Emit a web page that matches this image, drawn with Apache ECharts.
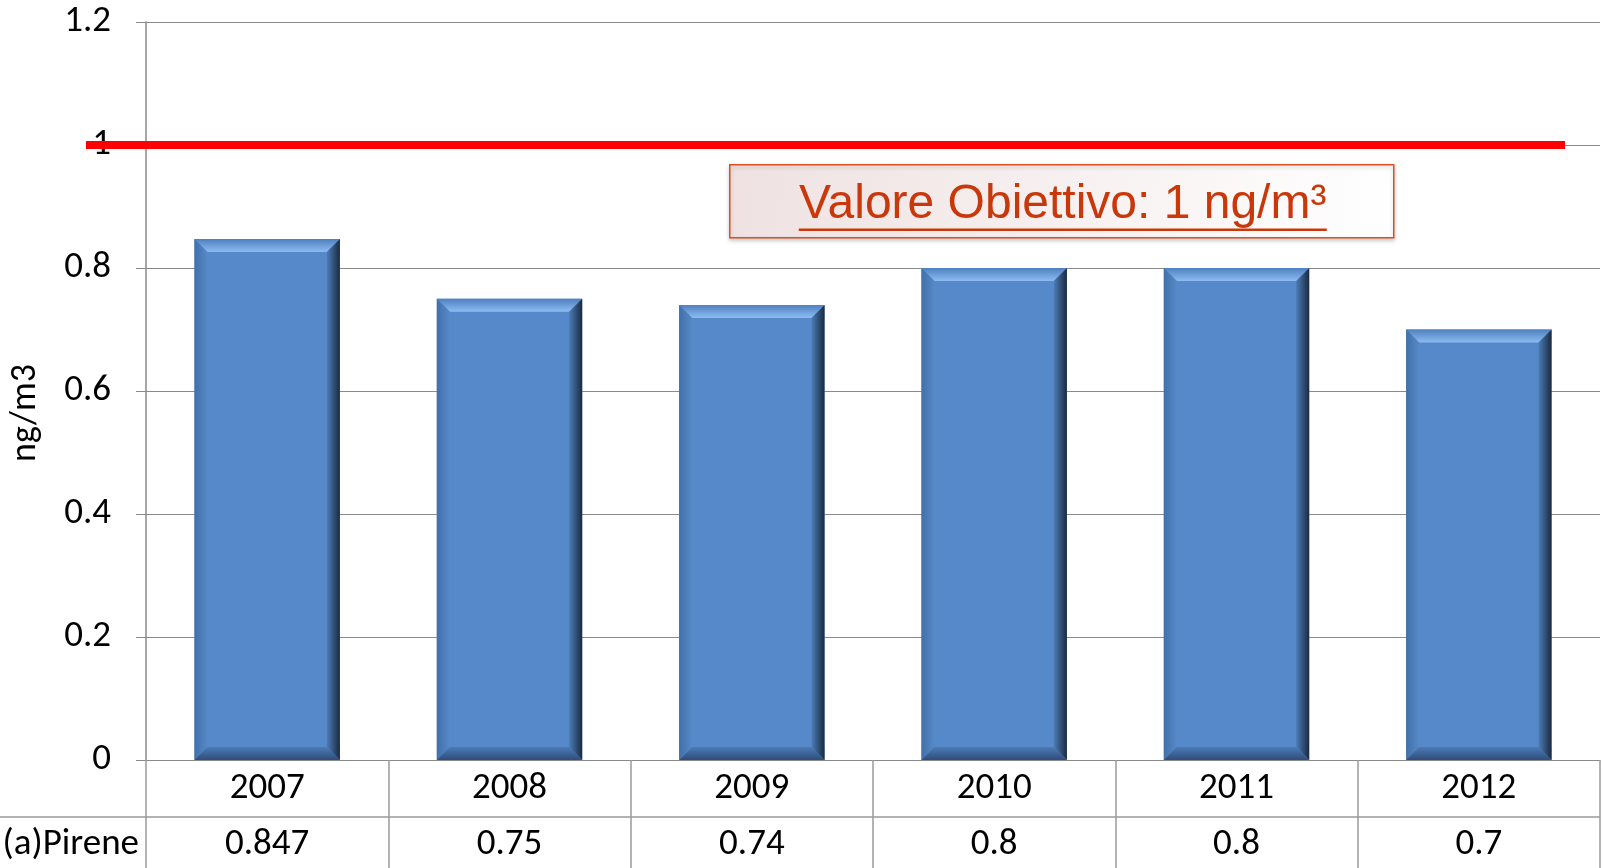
<!DOCTYPE html>
<html>
<head>
<meta charset="utf-8">
<script src="https://cdn.jsdelivr.net/npm/echarts@6.0.0/dist/echarts.min.js"></script>
<style>
  html, body { margin: 0; padding: 0; background: #fff; }
  #chart { width: 1604px; height: 868px; }
</style>
</head>
<body>
<div id="chart"></div>
<script>
// data
var years = ['2007', '2008', '2009', '2010', '2011', '2012']
var pirene = [0.847, 0.75, 0.74, 0.8, 0.8, 0.7]
var seriesName = '(a)Pirene'
var yTicks = { min: 0, max: 1.2, step: 0.2 }
var targetValue = 1
var targetText = 'Valore Obiettivo: 1 ng/m³'

var FONT = 'Carlito, Lato, sans-serif'

function grad (x, y, x2, y2, c0, c1) {
  return new echarts.graphic.LinearGradient(x, y, x2, y2, [
    { offset: 0, color: c0 },
    { offset: 1, color: c1 }
  ])
}

// excel-like bevelled column
function renderBar (params, api) {
  var idx = api.value(0)
  var val = api.value(1)
  var top = api.coord([idx, val])
  var base = api.coord([idx, 0])
  var w = api.size([1, 0])[0] * 0.6
  var x0 = top[0] - w / 2, x1 = top[0] + w / 2
  var yT = top[1], yB = base[1]
  var b = 13
  function poly (pts, fill) {
    return { type: 'polygon', shape: { points: pts }, style: { fill: fill } }
  }
  return {
    type: 'group',
    children: [
      { type: 'rect', shape: { x: x0, y: yT, width: w, height: yB - yT }, style: { fill: '#5689c9' } },
      poly([[x0, yT], [x1, yT], [x1 - b, yT + b], [x0 + b, yT + b]], grad(0, 0, 0, 1, '#4f80bf', '#8dbcf2')),
      poly([[x0, yT], [x0 + b, yT + b], [x0 + b, yB - b], [x0, yB]], grad(0, 0, 1, 0, '#4170a9', '#5689c8')),
      poly([[x1, yT], [x1, yB], [x1 - b, yB - b], [x1 - b, yT + b]], grad(0, 0, 1, 0, '#4c7cb7', '#1a2a40')),
      poly([[x0, yB], [x1, yB], [x1 - b, yB - b], [x0 + b, yB - b]], grad(0, 0, 0, 1, '#4d7bb5', '#2e4d7a'))
    ]
  }
}

var chart = echarts.init(document.getElementById('chart'))

var option = {
  animation: false,
  backgroundColor: '#ffffff',
  grid: { left: 146, right: 4, top: 22, bottom: 108, containLabel: false, outerBoundsMode: 'none' },
  xAxis: [
    {
      type: 'category',
      data: years,
      position: 'bottom',
      axisLine: { show: true, lineStyle: { color: '#8a8a8a', width: 1 } },
      axisTick: { show: true, interval: 0, length: 108, lineStyle: { color: '#9a9a9a', width: 1.5 } },
      axisLabel: { interval: 0, margin: 10, fontFamily: FONT, fontSize: 37, color: '#000' }
    },
    {
      type: 'category',
      data: pirene.map(function (v) { return String(v) }),
      position: 'bottom',
      offset: 57,
      axisLine: { show: false },
      axisTick: { show: false },
      axisLabel: { interval: 0, margin: 9, fontFamily: FONT, fontSize: 37, color: '#000' }
    }
  ],
  yAxis: {
    type: 'value',
    min: yTicks.min,
    max: yTicks.max,
    interval: yTicks.step,
    name: 'ng/m3',
    nameLocation: 'middle',
    nameRotate: 90,
    nameGap: 102,
    nameTextStyle: { fontFamily: FONT, fontSize: 36, color: '#000', padding: [0, 44, 0, 0] },
    axisLine: { show: true, lineStyle: { color: '#8a8a8a', width: 1.5 } },
    axisTick: { show: true, length: 10, lineStyle: { color: '#8a8a8a' } },
    axisLabel: { margin: 35, fontFamily: FONT, fontSize: 37, color: '#000' },
    splitLine: { show: true, lineStyle: { color: '#8a8a8a', width: 1.2 } }
  },
  series: [
    {
      name: seriesName,
      type: 'custom',
      renderItem: renderBar,
      clip: false,
      z: 5,
      encode: { x: 0, y: 1 },
      data: pirene.map(function (v, i) { return [i, v] }),
      markLine: {
        silent: true,
        symbol: 'none',
        label: { show: false },
        lineStyle: { color: '#ff0000', width: 8, type: 'solid' },
        data: [[{ x: 86, yAxis: targetValue }, { x: 1565, yAxis: targetValue }]]
      }
    }
  ],
  graphic: [
    {
      type: 'group',
      left: 729,
      top: 164,
      children: [
        {
          type: 'rect',
          shape: { x: 0, y: 0, width: 664, height: 73 },
          style: {
            fill: grad(0, 0, 1, 1, '#efe1e1', '#ffffff'),
            stroke: '#e0501e',
            lineWidth: 1.5,
            shadowBlur: 4,
            shadowOffsetY: 2,
            shadowColor: 'rgba(0,0,0,0.2)'
          }
        },
        {
          type: 'text',
          x: 333,
          y: 40,
          style: {
            text: targetText,
            fill: '#c9380b',
            font: '48px "Liberation Sans", Arial, sans-serif',
            align: 'center',
            verticalAlign: 'middle'
          }
        },
        {
          type: 'line',
          shape: { x1: 69, y1: 65, x2: 597, y2: 65 },
          style: { stroke: '#c9380b', lineWidth: 2.5 }
        }
      ]
    },
    {
      type: 'line',
      shape: { x1: 0, y1: 817, x2: 1600, y2: 817 },
      style: { stroke: '#9a9a9a', lineWidth: 1.5 }
    },
    {
      type: 'text',
      x: 139,
      y: 845,
      style: {
        text: seriesName,
        fill: '#000',
        font: '37px ' + FONT,
        align: 'right',
        verticalAlign: 'middle'
      }
    }
  ]
}

chart.setOption(option)
</script>
</body>
</html>
